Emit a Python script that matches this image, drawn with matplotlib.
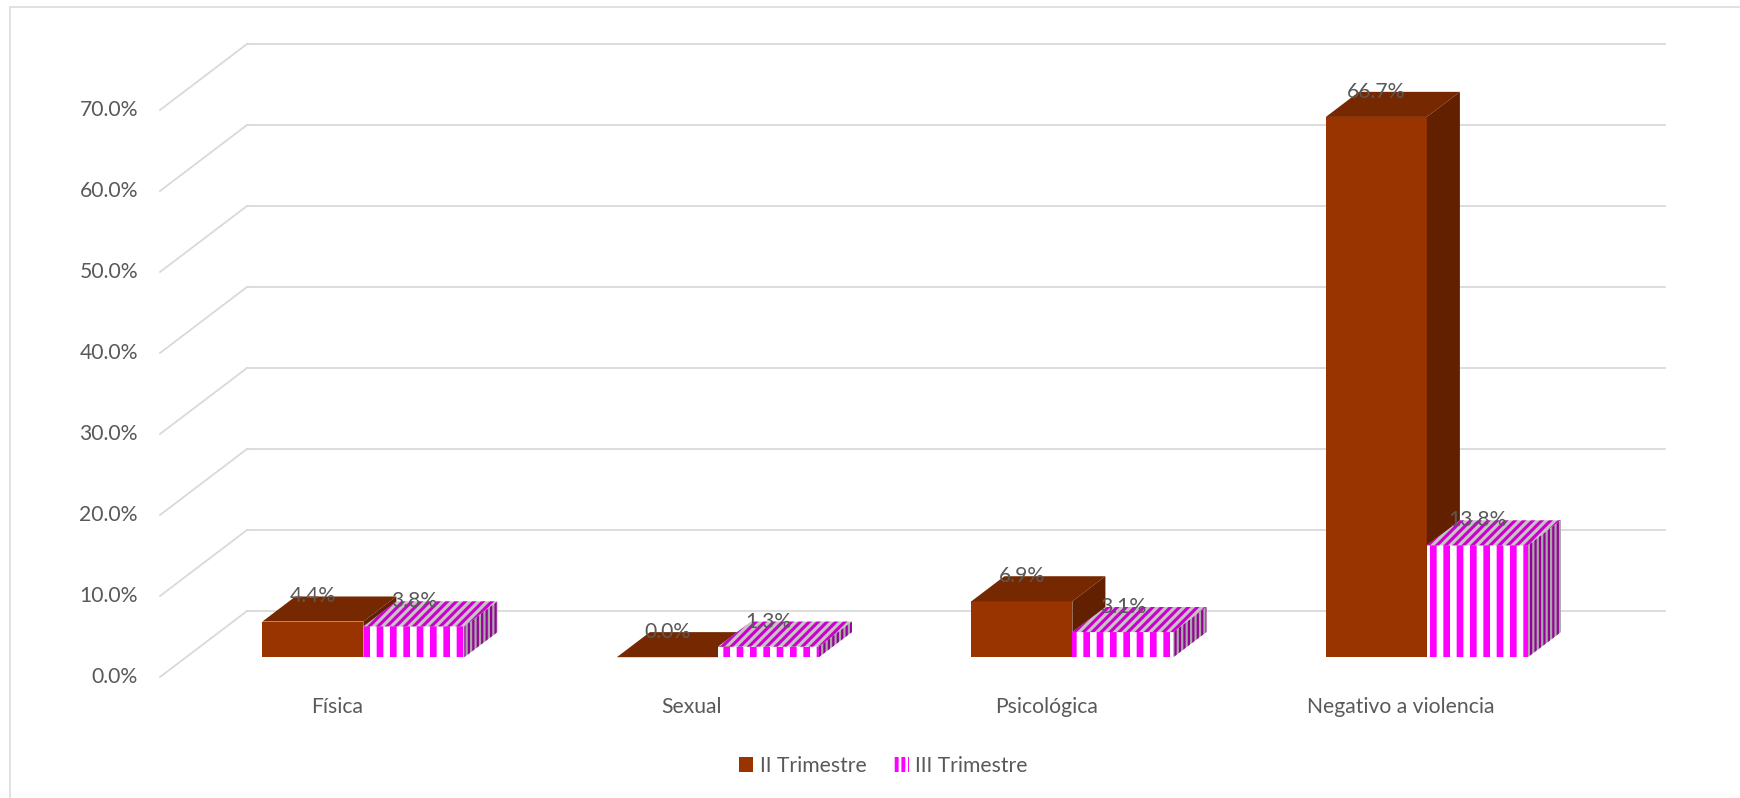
import matplotlib
matplotlib.use("Agg")
import matplotlib.pyplot as plt
from matplotlib.patches import Polygon, Rectangle, Patch

# Datos
categorias = ['Física', 'Sexual', 'Psicológica', 'Negativo a violencia']
trim_ii = [4.4, 0.0, 6.9, 66.7]
trim_iii = [3.8, 1.3, 3.1, 13.8]
series = ['II Trimestre', 'III Trimestre']
ticks_y = [0, 10, 20, 30, 40, 50, 60, 70]

plt.rcParams['font.family'] = ['Lato', 'DejaVu Sans']
TXT = '#595959'
GRID = '#d9d9d9'
FS = 19

# escala en pixeles de la figura (dpi 80 -> 1740 x 798)
DPI = 80
W_PX, H_PX = 1740, 798
PX_X = 354.5        # pixeles por categoria
PX_Y = 8.1          # pixeles por punto porcentual
X0_PX, Y0_PX = 160, 677   # esquina frontal izquierda (0 %)

# profundidad oblicua del piso/pared
KX = 87 / PX_X
KY = 66 / PX_Y
D_FRONT, D_BACK = 0.30, 0.68
BAR_W = 101 / PX_X


def proj(x, y, d):
    return (x + d * KX, y + d * KY)


fig = plt.figure(figsize=(W_PX / DPI, H_PX / DPI), dpi=DPI)
ax = fig.add_axes([0, 0, 1, 1])
xmin = -0.5 - X0_PX / PX_X
ymin = -(H_PX - Y0_PX) / PX_Y
ax.set_xlim(xmin, xmin + W_PX / PX_X)
ax.set_ylim(ymin, ymin + H_PX / PX_Y)
ax.axis('off')

# borde del area del grafico
fig.patches.append(Rectangle((10 / W_PX, -0.1), 1.2, 1.1 - 7 / H_PX,
                             transform=fig.transFigure, fill=False,
                             edgecolor=GRID, linewidth=1.4))

# pared del fondo y lineas laterales
n = len(categorias)
for v in ticks_y:
    a = proj(-0.5, v, 1)
    b = proj(n - 0.5, v, 1)
    c = proj(-0.5, v, 0)
    ax.plot([a[0], b[0]], [a[1], b[1]], color=GRID, lw=1.6, zorder=1)
    ax.plot([c[0], a[0]], [c[1], a[1]], color=GRID, lw=1.6, zorder=1)
    ax.text(-0.5 - 22 / PX_X, v, f'{v:.1f}%', ha='right', va='center',
            fontsize=FS, color=TXT)


def face(pts, fc, hatch=None, hc=None, hlw=None, z=3):
    p = Polygon(pts, closed=True, facecolor=fc, linewidth=0,
                edgecolor=hc if hatch else fc, hatch=hatch, zorder=z)
    if hatch and hlw and hasattr(p, 'set_hatch_linewidth'):
        p.set_hatch_linewidth(hlw)
    ax.add_patch(p)


def bar3d(x0, x1, v, style):
    front = [proj(x0, 0, D_FRONT), proj(x1, 0, D_FRONT),
             proj(x1, v, D_FRONT), proj(x0, v, D_FRONT)]
    top = [proj(x0, v, D_FRONT), proj(x1, v, D_FRONT),
           proj(x1, v, D_BACK), proj(x0, v, D_BACK)]
    side = [proj(x1, 0, D_FRONT), proj(x1, v, D_FRONT),
            proj(x1, v, D_BACK), proj(x1, 0, D_BACK)]
    for pts, key in ((front, 'front'), (top, 'top'), (side, 'side')):
        face(pts, **style[key])


estilo_ii = {
    'front': dict(fc='#993300'),
    'top': dict(fc='#762800'),
    'side': dict(fc='#632000'),
}
estilo_iii = {
    'front': dict(fc='white', hatch='|', hc='#ff00ff', hlw=6),
    'top': dict(fc='#c4c4c4', hatch='///', hc='#cc00cc', hlw=2.8),
    'side': dict(fc='#a8a8a8', hatch='|||', hc='#990099', hlw=2),
}

for i, (v2, v3) in enumerate(zip(trim_ii, trim_iii)):
    bar3d(i - BAR_W, i, v2, estilo_ii)
    bar3d(i, i + BAR_W, v3, estilo_iii)
    for cx, v in ((i - BAR_W / 2, v2), (i + BAR_W / 2, v3)):
        lx = proj(cx, v, D_FRONT)[0]
        ly = proj(cx, v, D_BACK)[1]
        ax.text(lx, ly, f'{v:.1f}%', ha='center', va='center',
                fontsize=FS, color=TXT, zorder=5)
    ax.text(i, -30 / PX_Y, categorias[i], ha='center', va='center',
            fontsize=FS, color=TXT)

h_ii = Patch(facecolor='#993300', edgecolor='#993300', linewidth=0)
h_iii = Patch(facecolor='white', edgecolor='#ff00ff', hatch='||', linewidth=0)
leg = ax.legend([h_ii, h_iii], series, loc='center', ncol=2,
                bbox_to_anchor=(883 / W_PX, 1 - 766 / H_PX),
                bbox_transform=fig.transFigure, frameon=False,
                fontsize=FS, handlelength=0.7, handleheight=0.7,
                handletextpad=0.3, columnspacing=1.3)
for t in leg.get_texts():
    t.set_color(TXT)
h = leg.legend_handles[1]
if hasattr(h, 'set_hatch_linewidth'):
    h.set_hatch_linewidth(3.5)

fig.savefig('out.png', dpi=DPI, facecolor='white')
